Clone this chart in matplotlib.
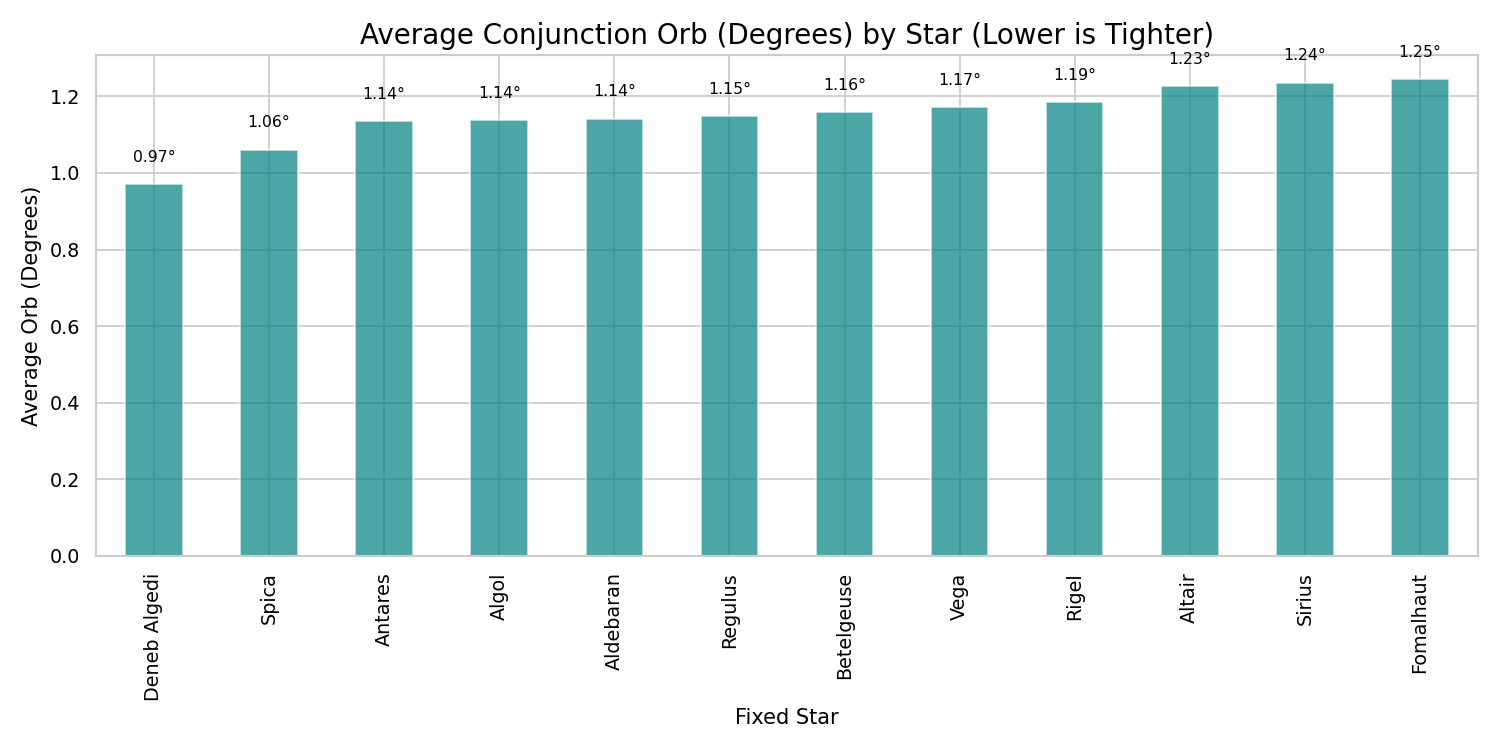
import matplotlib as mpl
mpl.use('Agg')
import matplotlib.pyplot as plt
import seaborn as sns
import pandas as pd

stars = ['Deneb Algedi', 'Spica', 'Antares', 'Algol', 'Aldebaran', 'Regulus',
         'Betelgeuse', 'Vega', 'Rigel', 'Altair', 'Sirius', 'Fomalhaut']
avg_orb = [0.972, 1.061, 1.136, 1.139, 1.142, 1.148,
           1.159, 1.172, 1.186, 1.227, 1.236, 1.246]

sns.set_theme(style='whitegrid')

orbs = pd.Series(avg_orb, index=stars)

fig, ax = plt.subplots(figsize=(12, 6), dpi=125)
orbs.plot(kind='bar', color='teal', alpha=0.7, ax=ax)

for i, v in enumerate(orbs):
    ax.text(i, v + 0.05, f'{v:.2f}°', ha='center', va='bottom', fontsize=9,
            color='black')

ax.set_title('Average Conjunction Orb (Degrees) by Star (Lower is Tighter)',
             fontsize=16, color='black')
ax.set_xlabel('Fixed Star', color='black')
ax.set_ylabel('Average Orb (Degrees)', color='black')
ax.tick_params(colors='black')

plt.tight_layout()
plt.savefig('out.png')
plt.close(fig)
